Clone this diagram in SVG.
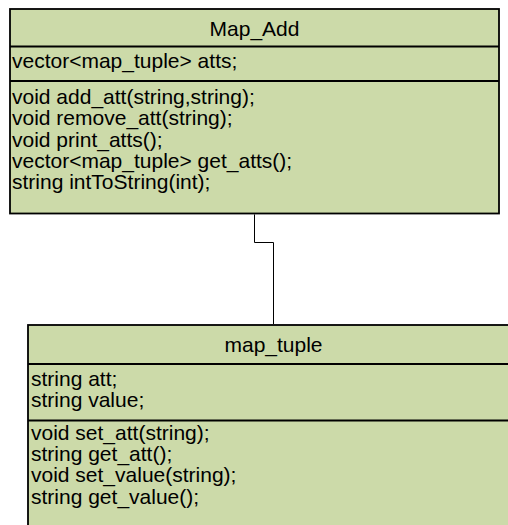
<svg xmlns="http://www.w3.org/2000/svg" width="508" height="525" viewBox="0 0 508 525">
  <style>
    .box { fill: #ccdaa9; stroke: #000; stroke-width: 1.8; }
    .div { stroke: #000; stroke-width: 1.8; fill: none; }
    .txt { font-family: "Liberation Sans", Arial, sans-serif; font-size: 21px; fill: #000; }
    .ttl { text-anchor: middle; }
    .conn { fill: none; stroke: #000; stroke-width: 1; }
  </style>
  <rect width="508" height="525" fill="#fff"/>

  <!-- class Map_Add -->
  <g id="map_add">
    <rect class="box" x="10" y="9" width="489" height="204.5"/>
    <line class="div" x1="10" y1="46.5" x2="499" y2="46.5"/>
    <line class="div" x1="10" y1="81" x2="499" y2="81"/>
    <text class="txt ttl" x="254.5" y="36">Map_Add</text>
    <text class="txt" x="12" y="68">vector&lt;map_tuple&gt; atts;</text>
    <text class="txt" x="12" y="104">void add_att(string,string);</text>
    <text class="txt" x="12" y="125.3">void remove_att(string);</text>
    <text class="txt" x="12" y="146.6">void print_atts();</text>
    <text class="txt" x="12" y="168">vector&lt;map_tuple&gt; get_atts();</text>
    <text class="txt" x="12" y="189.3">string intToString(int);</text>
  </g>

  <!-- class map_tuple -->
  <g id="map_tuple">
    <rect class="box" x="28" y="325" width="492" height="215"/>
    <line class="div" x1="28" y1="364" x2="520" y2="364"/>
    <line class="div" x1="28" y1="420.5" x2="520" y2="420.5"/>
    <text class="txt ttl" x="273.5" y="352">map_tuple</text>
    <text class="txt" x="31" y="385.7">string att;</text>
    <text class="txt" x="31" y="406.8">string value;</text>
    <text class="txt" x="31" y="440">void set_att(string);</text>
    <text class="txt" x="31" y="461.2">string get_att();</text>
    <text class="txt" x="31" y="482.4">void set_value(string);</text>
    <text class="txt" x="31" y="503.6">string get_value();</text>
  </g>

  <!-- association -->
  <g id="connectors">
    <polyline class="conn" points="254.5,214.4 254.5,242.5 273.5,242.5 273.5,324"/>
  </g>
</svg>
